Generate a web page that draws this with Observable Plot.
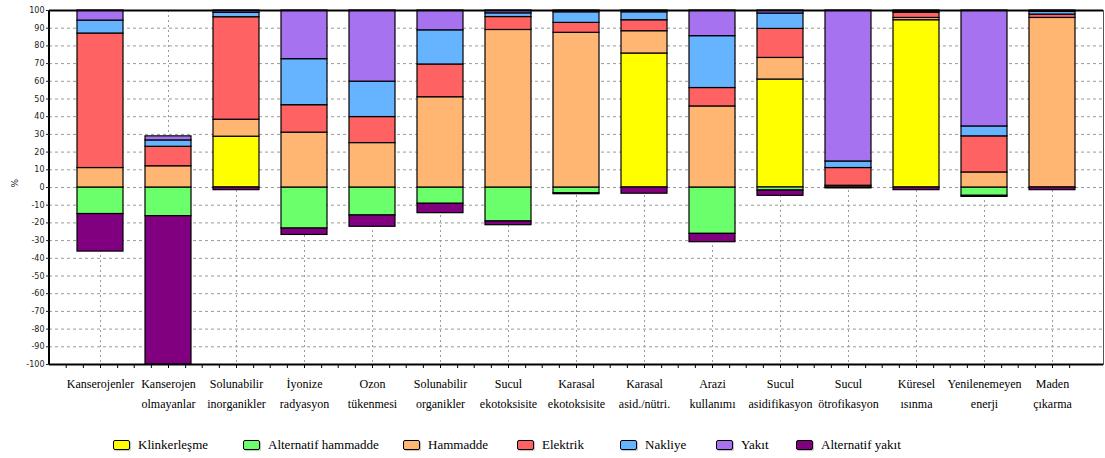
<!DOCTYPE html>
<html>
<head>
<meta charset="utf-8">
<script src="https://cdn.jsdelivr.net/npm/d3@7"></script>
<script src="https://cdn.jsdelivr.net/npm/@observablehq/plot@0.6"></script>
<style>
  body { margin: 0; background: #fff; }
  #chart svg { display: block; }
  #legend {
    position: relative;
    height: 38px;
    font-family: "Liberation Serif", "Times New Roman", serif;
    font-size: 13px;
    color: #000;
  }
  .item { position: absolute; top: 17px; display: flex; align-items: center; white-space: nowrap; }
  .sw { width: 15px; height: 8px; border: 1.5px solid #000; border-radius: 2px; margin-right: 8px; box-shadow: 1px 1px 1px rgba(0,0,0,0.25); }
</style>
</head>
<body>
<div id="chart"></div>
<div id="legend"></div>
<script>
// Impact categories (x axis) and their two-line tick labels
const categories = [
  "Kanserojenler", "Kanserojen olmayanlar", "Solunabilir inorganikler", "İyonize radyasyon",
  "Ozon tükenmesi", "Solunabilir organikler", "Sucul ekotoksisite", "Karasal ekotoksisite",
  "Karasal asid./nütri.", "Arazi kullanımı", "Sucul asidifikasyon", "Sucul ötrofikasyon",
  "Küresel ısınma", "Yenilenemeyen enerji", "Maden çıkarma"
];
const tickLabels = [
  "Kanserojenler", "Kanserojen\nolmayanlar", "Solunabilir\ninorganikler", "İyonize\nradyasyon",
  "Ozon\ntükenmesi", "Solunabilir\norganikler", "Sucul\nekotoksisite", "Karasal\nekotoksisite",
  "Karasal\nasid./nütri.", "Arazi\nkullanımı", "Sucul\nasidifikasyon", "Sucul\nötrofikasyon",
  "Küresel\nısınma", "Yenilenemeyen\nenerji", "Maden\nçıkarma"
];

// Contributing processes, in stacking order
const series = ["Klinkerleşme", "Alternatif hammadde", "Hammadde", "Elektrik", "Nakliye", "Yakıt", "Alternatif yakıt"];
const seriesColors = ["#ffff00", "#6cff6c", "#ffb673", "#ff6262", "#66b3ff", "#a672f0", "#800080"];

// Percent contribution of each process per category
const klinkerlesme       = [0, 0, 28.7, 0, 0, 0, 0, 0, 75.7, 0, 61, 0, 94.5, 0, 0];
const alternatifHammadde = [-15, -16.2, 0, -23.2, -15.8, -9.2, -19.2, -3.2, 0, -26.2, -1.7, 0, 0, -4.7, 0];
const hammadde           = [11, 12, 9.6, 31, 25.1, 51, 89, 87.4, 12.6, 45.8, 12.2, 1, 1.3, 8.5, 95.8];
const elektrik           = [76, 11, 57.9, 15.5, 14.7, 18.5, 7.3, 5.6, 6.2, 10.4, 16.4, 10, 2.9, 20.4, 1.9];
const nakliye            = [7.3, 3.6, 2.5, 26, 20, 19.3, 2.1, 6, 4.5, 29.3, 8.7, 3.7, 0.8, 5.6, 1.5];
const yakit              = [5.7, 2.3, 1.3, 27.5, 40.2, 11.2, 1.6, 1, 1, 14.5, 1.7, 85.3, 0.5, 65.5, 0.8];
const alternatifYakit    = [-21.2, -83.8, -1.5, -3.6, -6.4, -5.3, -2.1, -0.6, -3.5, -4.7, -3, -0.5, -1.5, -0.6, -1.5];

const yTicks = d3.range(-100, 101, 10);

const seriesValues = [klinkerlesme, alternatifHammadde, hammadde, elektrik, nakliye, yakit, alternatifYakit];
const rows = [];
series.forEach((s, i) => categories.forEach((c, j) => rows.push({category: c, series: s, value: seriesValues[i][j]})));

const labelOf = new Map(categories.map((c, i) => [c, tickLabels[i]]));

const W = 1105, H = 420, ML = 49, MR = 2, MT = 10, MB = 56;
const padIn = 0.33, padOut = 0.345;
const step = (W - ML - MR) / (categories.length - padIn + 2 * padOut);

// small ticks along the bottom axis, four per category
const minorTicks = [-0.5, -0.25, 0, 0.25].map(k =>
  Plot.axisX({tickSize: 4, tickFormat: () => "", dx: k * step, stroke: "#000", label: null})
);

const chart = Plot.plot({
  width: W,
  height: H,
  marginLeft: ML,
  marginRight: MR,
  marginTop: MT,
  marginBottom: MB,
  style: {fontFamily: "'DejaVu Sans', sans-serif", fontSize: "8px", color: "#222", background: "#fff"},
  x: {domain: categories, paddingInner: padIn, paddingOuter: padOut, align: 0.5},
  y: {domain: [-100, 100]},
  color: {domain: series, range: seriesColors},
  marks: [
    Plot.gridY({ticks: d3.range(-90, 100, 10), stroke: "#9a9a9a", strokeOpacity: 1, strokeDasharray: "3,3"}),
    Plot.gridX({stroke: "#9a9a9a", strokeOpacity: 1, strokeDasharray: "2,3"}),
    Plot.barY(rows, {x: "category", y: "value", fill: "series", stroke: "#000", strokeWidth: 1.2}),
    Plot.frame({stroke: "#555", strokeWidth: 1}),
    Plot.ruleY([100, -100], {stroke: "#000", strokeWidth: 2}),
    // thick left axis line
    (index, scales, values, dims) => {
      const g = d3.create("svg:g");
      g.append("line")
        .attr("x1", dims.marginLeft).attr("x2", dims.marginLeft)
        .attr("y1", dims.marginTop).attr("y2", dims.height - dims.marginBottom)
        .attr("stroke", "#000").attr("stroke-width", 2);
      return g.node();
    },
    Plot.axisY({ticks: yTicks, tickSize: 3, tickPadding: 2, tickFormat: d => String(d), label: null, fontSize: 8}),
    Plot.text(["%"], {frameAnchor: "left", dx: -34, rotate: -90, fontSize: 9, fill: "#222"}),
    ...minorTicks,
    Plot.axisX({
      tickSize: 0,
      tickPadding: 9,
      tickFormat: d => labelOf.get(d),
      lineAnchor: "top",
      lineHeight: 1.68,
      fontFamily: "'Liberation Serif', 'Times New Roman', serif",
      fontSize: 12,
      fill: "#000",
      label: null
    })
  ]
});
document.getElementById("chart").append(chart);

// legend below the plot
const legendLeft = [113, 243, 403, 517, 620, 716, 796];
const legend = document.getElementById("legend");
series.forEach((s, i) => {
  const item = document.createElement("div");
  item.className = "item";
  item.style.left = legendLeft[i] + "px";
  const sw = document.createElement("span");
  sw.className = "sw";
  sw.style.background = seriesColors[i];
  const t = document.createElement("span");
  t.textContent = s;
  item.append(sw, t);
  legend.append(item);
});
</script>
</body>
</html>
